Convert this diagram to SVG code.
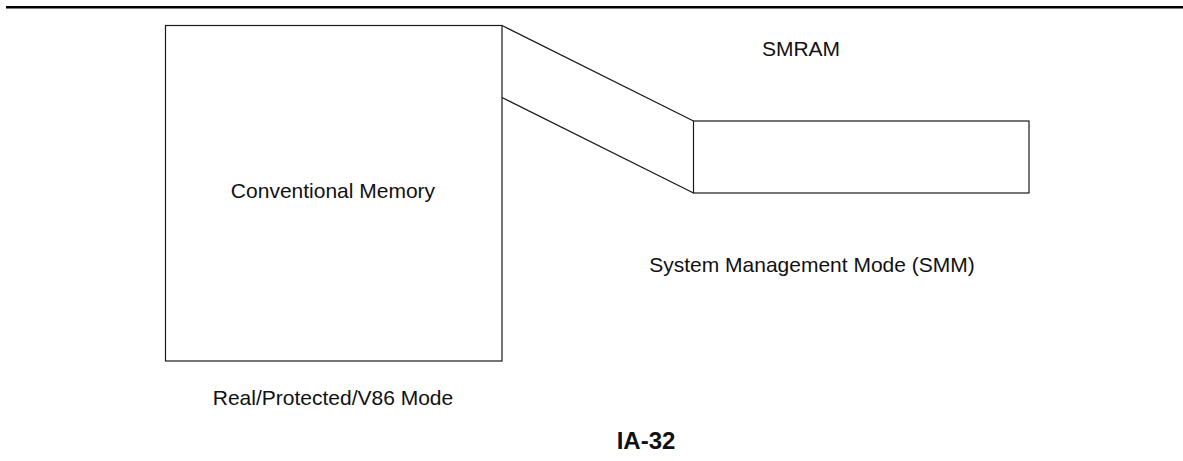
<svg xmlns="http://www.w3.org/2000/svg" width="1183" height="461" viewBox="0 0 1183 461">
  <style>
    .box { fill: #ffffff; stroke: #1a1a1a; stroke-width: 1.2; }
    .conn { stroke: #1a1a1a; stroke-width: 1.2; fill: none; }
    .lbl { font-family: "Liberation Sans", Arial, sans-serif; font-size: 21px; fill: #111111; text-anchor: middle; }
    .title { font-family: "Liberation Sans", Arial, sans-serif; font-size: 24px; font-weight: bold; fill: #111111; text-anchor: middle; }
  </style>
  <rect x="0" y="0" width="1183" height="461" fill="#ffffff"/>
  <line x1="6" y1="7.2" x2="1183" y2="7.2" stroke="#000000" stroke-width="2.4"/>
  <g id="conventional-memory">
    <rect class="box" x="165.5" y="25.5" width="336.5" height="335.5"/>
    <text class="lbl" x="333" y="198">Conventional Memory</text>
  </g>
  <g id="smram">
    <rect class="box" x="693.5" y="121" width="335.5" height="72"/>
    <text class="lbl" x="801" y="56">SMRAM</text>
  </g>
  <g id="connectors">
    <line class="conn" x1="502" y1="25.5" x2="693.5" y2="121"/>
    <line class="conn" x1="502" y1="97.5" x2="693.5" y2="193"/>
  </g>
  <g id="labels">
    <text class="lbl" x="333" y="405">Real/Protected/V86 Mode</text>
    <text class="lbl" x="812" y="272">System Management Mode (SMM)</text>
    <text class="title" x="646" y="449">IA-32</text>
  </g>
</svg>
